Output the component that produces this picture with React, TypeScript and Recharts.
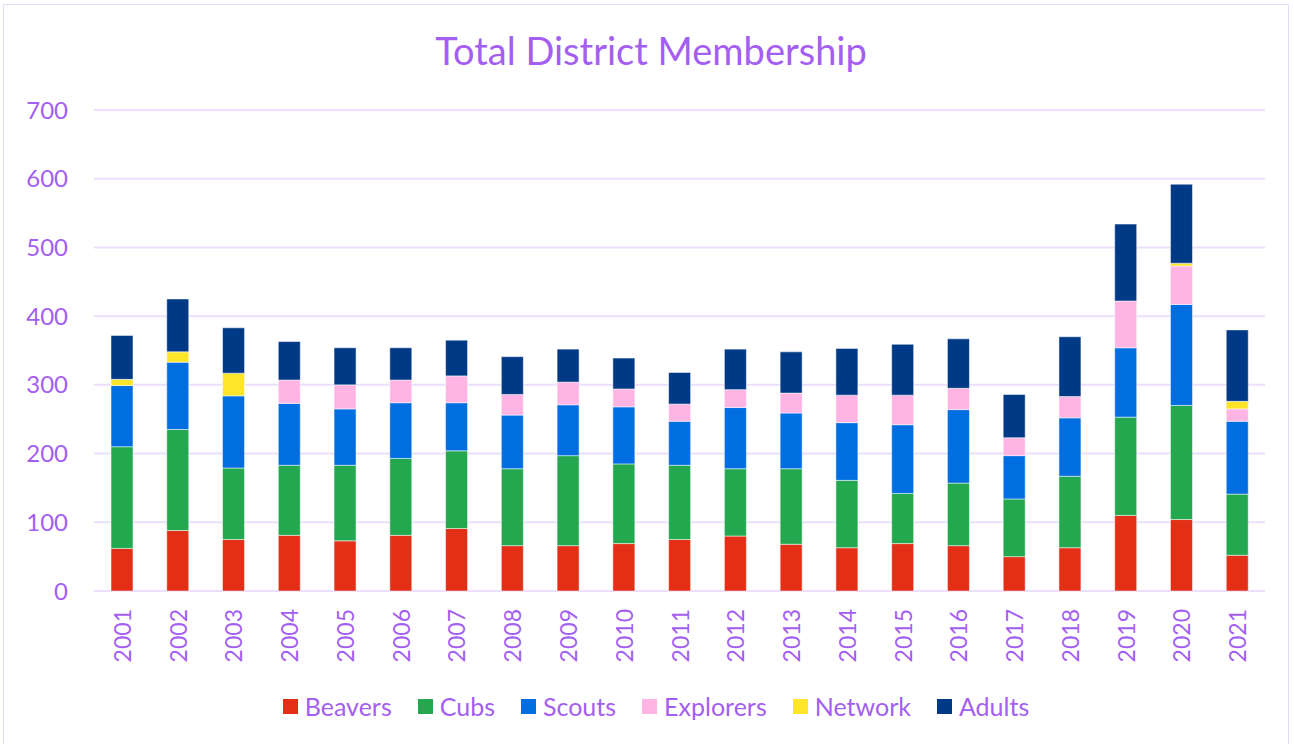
import React from 'react';
import { BarChart, Bar, XAxis, YAxis, CartesianGrid } from 'recharts';

const years = [
  '2001', '2002', '2003', '2004', '2005', '2006', '2007', '2008', '2009', '2010', '2011',
  '2012', '2013', '2014', '2015', '2016', '2017', '2018', '2019', '2020', '2021',
];
const beavers = [62, 88, 75, 81, 73, 81, 91, 66, 66, 69, 75, 80, 68, 63, 69, 66, 50, 63, 110, 104, 52];
const cubs = [148, 147, 104, 102, 110, 112, 113, 112, 131, 116, 108, 98, 110, 98, 73, 91, 84, 104, 143, 166, 89];
const scouts = [89, 98, 105, 90, 82, 81, 70, 78, 74, 83, 64, 89, 81, 84, 100, 107, 63, 85, 101, 147, 106];
const explorers = [0, 0, 0, 34, 35, 33, 39, 30, 33, 26, 25, 26, 29, 40, 43, 31, 26, 31, 68, 56, 18];
const network = [9, 15, 33, 0, 0, 0, 0, 0, 0, 0, 0, 0, 0, 0, 0, 0, 0, 0, 0, 4, 11];
const adults = [64, 77, 66, 56, 54, 47, 52, 55, 48, 45, 46, 59, 60, 68, 74, 72, 63, 87, 112, 115, 104];
const yTicks = [0, 100, 200, 300, 400, 500, 600, 700];

const series = [
  { key: 'Beavers', values: beavers, color: '#e22f16' },
  { key: 'Cubs', values: cubs, color: '#23a84f' },
  { key: 'Scouts', values: scouts, color: '#006ee0' },
  { key: 'Explorers', values: explorers, color: '#ffb4e4' },
  { key: 'Network', values: network, color: '#ffe52a' },
  { key: 'Adults', values: adults, color: '#003985' },
];

const data = years.map((year, i) => {
  const row: Record<string, string | number> = { year };
  series.forEach((s) => {
    row[s.key] = s.values[i];
  });
  return row;
});

const purple = '#a45ef2';
const font = 'Lato, "Open Sans", sans-serif';

const YearTick = (props: any) => {
  const { x, y, payload } = props;
  const ty = y + 18;
  return (
    <text
      x={x}
      y={ty}
      transform={`rotate(-90, ${x}, ${ty})`}
      textAnchor="end"
      dominantBaseline="central"
      fill={purple}
      fontSize={23}
      fontFamily={font}
    >
      {payload.value}
    </text>
  );
};

export default function App() {
  return (
    <div style={{ position: 'absolute', left: 0, top: 0, width: 1294, height: 744, background: '#fff', fontFamily: font }}>
      <div
        style={{
          position: 'absolute',
          left: 3,
          top: 4,
          width: 1286,
          height: 760,
          border: '1.5px solid #e6d9fb',
          boxSizing: 'border-box',
        }}
      />
      <svg width={1294} height={100} style={{ position: 'absolute', left: 0, top: 0 }}>
        <text x={651} y={65} textAnchor="middle" fill={purple} fontSize={38} fontFamily={font}>
          Total District Membership
        </text>
      </svg>
      <div style={{ position: 'absolute', left: 0, top: 0 }}>
        <BarChart
          width={1294}
          height={744}
          data={data}
          margin={{ top: 110, right: 29, bottom: 63, left: 0 }}
          barSize={22}
        >
          <CartesianGrid vertical={false} stroke="#ecdffb" strokeWidth={2} />
          <XAxis
            dataKey="year"
            height={90}
            axisLine={false}
            tickLine={false}
            tickSize={0}
            tickMargin={0}
            interval={0}
            tick={<YearTick />}
          />
          <YAxis
            width={94}
            domain={[0, 700]}
            ticks={yTicks}
            axisLine={false}
            tickLine={false}
            tickSize={0}
            tickMargin={26}
            tick={{ fill: purple, fontSize: 24, fontFamily: font }}
          />
          {series.map((s) => (
            <Bar
              key={s.key}
              dataKey={s.key}
              stackId="a"
              fill={s.color}
              stroke="#ffffff"
              strokeOpacity={0.5}
              strokeWidth={1}
              isAnimationActive={false}
            />
          ))}
        </BarChart>
      </div>
      <div
        style={{
          position: 'absolute',
          left: 0,
          top: 691,
          width: 1312,
          display: 'flex',
          justifyContent: 'center',
          alignItems: 'center',
          gap: 26,
          color: purple,
          fontSize: 25,
          lineHeight: '30px',
        }}
      >
        {series.map((s) => (
          <div key={s.key} style={{ display: 'flex', alignItems: 'center' }}>
            <span style={{ display: 'inline-block', width: 15, height: 15, background: s.color, marginRight: 7 }} />
            <span>{s.key}</span>
          </div>
        ))}
      </div>
    </div>
  );
}
